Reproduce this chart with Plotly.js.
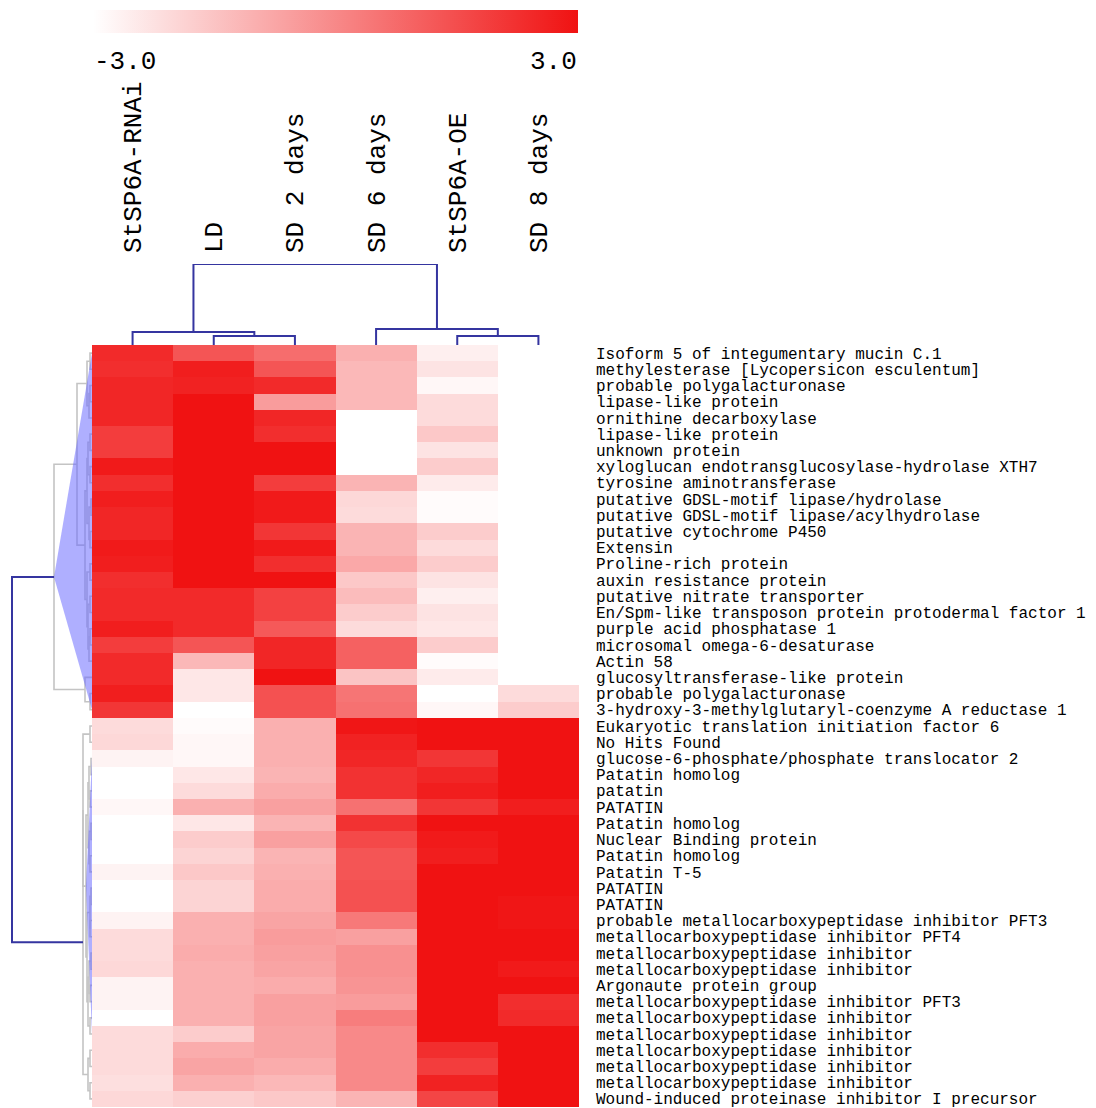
<!DOCTYPE html>
<html>
<head>
<meta charset="utf-8">
<script src="https://cdn.plot.ly/plotly-3.0.1.min.js"></script>
<style>html,body{margin:0;padding:0;background:#fff}#chart{width:1096px;height:1108px}</style>
</head>
<body>
<div id="chart"></div>
<script>
// ---- data ----
const columns = ['StSP6A-RNAi', 'LD', 'SD 2 days', 'SD 6 days', 'StSP6A-OE', 'SD 8 days'];

const genes = [
  'Isoform 5 of integumentary mucin C.1',
  'methylesterase [Lycopersicon esculentum]',
  'probable polygalacturonase',
  'lipase-like protein',
  'ornithine decarboxylase',
  'lipase-like protein',
  'unknown protein',
  'xyloglucan endotransglucosylase-hydrolase XTH7',
  'tyrosine aminotransferase',
  'putative GDSL-motif lipase/hydrolase',
  'putative GDSL-motif lipase/acylhydrolase',
  'putative cytochrome P450',
  'Extensin',
  'Proline-rich protein',
  'auxin resistance protein',
  'putative nitrate transporter',
  'En/Spm-like transposon protein protodermal factor 1',
  'purple acid phosphatase 1',
  'microsomal omega-6-desaturase',
  'Actin 58',
  'glucosyltransferase-like protein',
  'probable polygalacturonase',
  '3-hydroxy-3-methylglutaryl-coenzyme A reductase 1',
  'Eukaryotic translation initiation factor 6',
  'No Hits Found',
  'glucose-6-phosphate/phosphate translocator 2',
  'Patatin homolog',
  'patatin',
  'PATATIN',
  'Patatin homolog',
  'Nuclear Binding protein',
  'Patatin homolog',
  'Patatin T-5',
  'PATATIN',
  'PATATIN',
  'probable metallocarboxypeptidase inhibitor PFT3',
  'metallocarboxypeptidase inhibitor PFT4',
  'metallocarboxypeptidase inhibitor',
  'metallocarboxypeptidase inhibitor',
  'Argonaute protein group',
  'metallocarboxypeptidase inhibitor PFT3',
  'metallocarboxypeptidase inhibitor',
  'metallocarboxypeptidase inhibitor',
  'metallocarboxypeptidase inhibitor',
  'metallocarboxypeptidase inhibitor',
  'metallocarboxypeptidase inhibitor',
  'Wound-induced proteinase inhibitor I precursor'
];

const rnaiVals = [2.4, 2.3, 2.5, 2.5, 2.5, 1.9, 1.9, 2.8, 2.3, 2.7, 2.5, 2.5, 2.8, 2.7, 2.3, 2.4, 2.4, 2.7, 1.9, 2.4, 2.4, 2.7, 2.1,
  -2.1, -2.0, -2.7, -3.0, -3.0, -2.8, -3.0, -3.0, -3.0, -2.7, -3.0, -3.0, -2.7, -2.1, -2.1, -2.0, -2.7, -2.7, -3.0, -2.1, -2.1, -2.1, -2.2, -2.0];
const ldVals = [1.3, 2.7, 2.6, 3.0, 3.0, 3.0, 3.0, 3.0, 3.0, 3.0, 3.0, 3.0, 3.0, 3.0, 3.0, 2.4, 2.4, 2.4, 1.3, -1.2, -2.4, -2.4, -3.0,
  -2.9, -2.8, -2.8, -2.4, -2.1, -1.0, -2.4, -1.7, -1.9, -1.6, -1.9, -1.9, -1.0, -1.0, -0.9, -1.0, -1.0, -1.0, -1.0, -1.7, -0.9, -0.7, -1.0, -1.8];
const sd2Vals = [0.7, 1.3, 2.4, -0.5, 2.5, 2.3, 3.0, 3.0, 1.9, 2.8, 2.8, 2.1, 2.8, 2.3, 3.0, 1.8, 1.8, 1.2, 2.5, 2.5, 3.0, 1.4, 1.4,
  -1.0, -1.0, -1.0, -1.1, -0.9, -0.6, -1.1, -0.6, -1.1, -1.0, -0.9, -0.9, -0.7, -0.5, -0.6, -0.7, -0.9, -0.6, -0.6, -0.7, -0.7, -0.9, -1.2, -1.6];
const sd6Vals = [-1.0, -1.2, -1.2, -1.2, -3.0, -3.0, -3.0, -3.0, -1.1, -2.0, -2.1, -1.1, -1.1, -0.8, -1.6, -1.3, -1.7, -2.1, 1.0, 1.0, -1.5, 0.5, 0.6,
  2.9, 2.6, 2.5, 2.2, 2.2, 0.6, 2.2, 1.6, 1.3, 1.3, 1.4, 1.4, 0.4, -0.6, -0.2, -0.2, -0.3, -0.5, 0.3, 0.0, 0.0, 0.0, 0.0, -1.1];
const oeVals = [-2.6, -2.3, -2.8, -2.1, -2.1, -1.6, -2.3, -1.7, -2.5, -2.9, -2.9, -1.7, -2.1, -1.7, -2.3, -2.6, -2.3, -2.4, -1.7, -2.9, -2.5, -3.0, -2.8,
  3.0, 3.0, 2.1, 2.5, 2.7, 2.1, 3.0, 2.8, 2.7, 3.0, 3.0, 3.0, 3.0, 3.0, 3.0, 3.0, 3.0, 3.0, 3.0, 3.0, 2.3, 1.9, 2.6, 1.7];
const sd8Vals = [-3.0, -3.0, -3.0, -3.0, -3.0, -3.0, -3.0, -3.0, -3.0, -3.0, -3.0, -3.0, -3.0, -3.0, -3.0, -3.0, -3.0, -3.0, -3.0, -3.0, -3.0, -2.1, -1.7,
  3.0, 3.0, 3.0, 3.0, 3.0, 2.7, 3.0, 3.0, 3.0, 3.0, 3.0, 2.9, 2.9, 3.0, 3.0, 2.8, 3.0, 2.3, 2.4, 3.0, 3.0, 3.0, 3.0, 3.0];

const colorMin = -3.0, colorMax = 3.0;
const colorTickText = ['-3.0', '3.0'];

// dendrogram merges: [childA, childB, height]; ids >= leaf count refer to earlier merges
const colMerges = [[1, 2, 9], [4, 5, 9], [0, 6, 13], [3, 7, 16], [8, 9, 81]];
const rowMerges = [
  [0, 1, 2], [2, 3, 2], [48, 4, 3], [47, 49, 5],
  [5, 6, 2], [7, 8, 2], [51, 52, 4], [9, 10, 1], [11, 12, 2], [54, 55, 3], [53, 56, 5],
  [13, 14, 2], [15, 16, 2], [17, 18, 2], [60, 19, 3], [59, 61, 4], [58, 62, 5], [57, 63, 7],
  [50, 64, 15], [21, 22, 2], [20, 66, 7], [65, 67, 38],
  [23, 24, 2], [25, 26, 1], [27, 28, 2], [29, 30, 1], [31, 32, 2], [33, 34, 1], [35, 36, 2],
  [37, 38, 1], [39, 40, 2], [41, 42, 2], [70, 71, 3], [72, 73, 3], [74, 75, 2], [76, 77, 3],
  [82, 78, 4], [79, 80, 4], [81, 83, 5], [84, 85, 6], [69, 86, 9], [43, 44, 2], [45, 46, 2],
  [88, 89, 4], [87, 90, 9], [68, 91, 80]
];
const highlightNodes = [68, 86];

// ---- helpers ----
function buildTree(n, merges) {
  const pos = [], hgt = [], lo = [], hi = [];
  for (let i = 0; i < n; i++) { pos[i] = i; hgt[i] = 0; lo[i] = i; hi[i] = i; }
  const links = [];
  merges.forEach((m, k) => {
    const id = n + k, a = m[0], b = m[1], h = m[2];
    pos[id] = (pos[a] + pos[b]) / 2; hgt[id] = h;
    lo[id] = Math.min(lo[a], lo[b]); hi[id] = Math.max(hi[a], hi[b]);
    links.push({ id, pts: [[hgt[a], pos[a]], [h, pos[a]], [h, pos[b]], [hgt[b], pos[b]]] });
  });
  return { pos, hgt, lo, hi, links };
}
function linePath(links, swap) {
  const xs = [], ys = [];
  links.forEach(l => {
    l.pts.forEach(p => { if (swap) { xs.push(p[1]); ys.push(p[0]); } else { xs.push(p[0]); ys.push(p[1]); } });
    xs.push(null); ys.push(null);
  });
  return { xs, ys };
}

const nRows = genes.length, nCols = columns.length;
const z = genes.map((g, i) => [rnaiVals[i], ldVals[i], sd2Vals[i], sd6Vals[i], oeVals[i], sd8Vals[i]]);
const colIdx = columns.map((c, i) => i);
const rowIdx = genes.map((g, i) => i);

const colTree = buildTree(nCols, colMerges);
const rowTree = buildTree(nRows, rowMerges);

const W = 1096, H = 1108;
const hmL = 92 / W, hmR = 579 / W, hmB = 1 / H, hmT = (H - 345) / H, dTop = (H - 264) / H;
const mono = 'Liberation Mono, Courier New, monospace';

const traces = [];
traces.push({
  type: 'heatmap', z: z, x: colIdx, y: rowIdx,
  zmin: colorMin, zmax: colorMax,
  colorscale: [[0, '#ffffff'], [1, '#f01212']],
  xgap: 0, ygap: 0, hoverinfo: 'skip',
  colorbar: {
    orientation: 'h', x: 93 / W, xanchor: 'left', y: 1 - 10 / H, yanchor: 'top',
    len: 485 / W, lenmode: 'fraction', thickness: 23, thicknessmode: 'pixels',
    outlinewidth: 0, xpad: 0, ypad: 0, showticklabels: false, ticks: ''
  }
});

// column dendrogram
const cp = linePath(colTree.links, true);
traces.push({ type: 'scatter', mode: 'lines', x: cp.xs, y: cp.ys, xaxis: 'x2', yaxis: 'y2',
  line: { color: '#3535a0', width: 2 }, hoverinfo: 'skip', showlegend: false });

// row dendrogram (gray links)
const rootLink = rowTree.links[rowTree.links.length - 1];
const rp = linePath(rowTree.links.slice(0, -1), false);
traces.push({ type: 'scatter', mode: 'lines', x: rp.xs, y: rp.ys, xaxis: 'x3', yaxis: 'y',
  line: { color: '#c4c4c4', width: 1.6 }, hoverinfo: 'skip', showlegend: false });

// highlighted clusters
highlightNodes.forEach(id => {
  traces.push({ type: 'scatter', mode: 'lines', fill: 'toself',
    x: [rowTree.hgt[id], 0, 0, rowTree.hgt[id]],
    y: [rowTree.pos[id], rowTree.lo[id], rowTree.hi[id], rowTree.pos[id]],
    xaxis: 'x3', yaxis: 'y', line: { width: 0 }, fillcolor: 'rgba(110,110,255,0.55)',
    hoverinfo: 'skip', showlegend: false });
});

const rootPath = linePath([rootLink], false);
traces.push({ type: 'scatter', mode: 'lines', x: rootPath.xs, y: rootPath.ys, xaxis: 'x3', yaxis: 'y',
  line: { color: '#3535a0', width: 2 }, hoverinfo: 'skip', showlegend: false });

const layout = {
  width: W, height: H, margin: { l: 0, r: 0, t: 0, b: 0 },
  paper_bgcolor: '#ffffff', plot_bgcolor: 'rgba(0,0,0,0)', showlegend: false,
  font: { family: mono, color: '#000000' },
  xaxis: { domain: [hmL, hmR], range: [-0.5, nCols - 0.5], anchor: 'y', showticklabels: false,
    showgrid: false, zeroline: false, showline: false, ticks: '' },
  yaxis: { domain: [hmB, hmT], range: [nRows - 0.5, -0.5], anchor: 'x', side: 'right',
    tickmode: 'array', tickvals: rowIdx, ticktext: genes, ticks: '', ticklabelstandoff: 16,
    ticklabeloverflow: 'allow',
    tickfont: { family: mono, size: 16, color: '#000000' },
    showgrid: false, zeroline: false, showline: false },
  xaxis2: { domain: [hmL, hmR], range: [-0.5, nCols - 0.5], anchor: 'y2', side: 'top',
    tickmode: 'array', tickvals: colIdx, ticktext: columns, tickangle: -90, ticks: '',
    ticklabelstandoff: 10, ticklabeloverflow: 'allow',
    tickfont: { family: mono, size: 26, color: '#000000' },
    showgrid: false, zeroline: false, showline: false },
  yaxis2: { domain: [hmT, dTop], range: [0, 81], anchor: 'x2', visible: false },
  xaxis3: { domain: [0, hmL], range: [92, 0], anchor: 'y', visible: false },
  annotations: [
    { xref: 'paper', yref: 'paper', x: 92 / W, y: 1 - 62 / H, xanchor: 'left', yanchor: 'middle',
      text: colorTickText[0], showarrow: false, font: { family: mono, size: 26, color: '#000000' } },
    { xref: 'paper', yref: 'paper', x: 579 / W, y: 1 - 62 / H, xanchor: 'right', yanchor: 'middle',
      text: colorTickText[1], showarrow: false, font: { family: mono, size: 26, color: '#000000' } }
  ]
};

Plotly.newPlot('chart', traces, layout, { displayModeBar: false, staticPlot: true });
</script>
</body>
</html>
